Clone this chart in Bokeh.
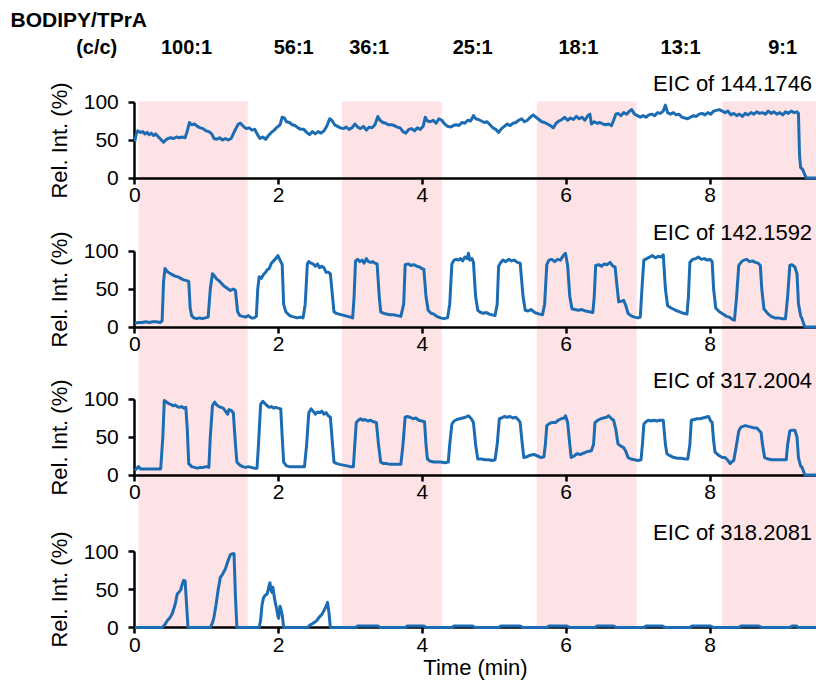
from bokeh.plotting import figure
from bokeh.models import Range1d, LinearAxis, FixedTicker, BoxAnnotation, Label, ColumnDataSource
from bokeh.embed import file_html
from bokeh.resources import INLINE

# ---------------- data ----------------
series_names = ["EIC of 144.1746", "EIC of 142.1592", "EIC of 317.2004", "EIC of 318.2081"]

t1 = [0.00,0.02,0.04,0.08,0.11,0.14,0.17,0.20,0.23,0.26,0.29,0.31,0.34,0.37,0.40,0.43,0.46,0.50,0.54,0.58,
      0.62,0.66,0.70,0.73,0.76,0.79,0.83,0.87,0.91,0.95,0.99,1.03,1.07,1.10,1.14,1.18,1.22,1.26,1.30,1.34,
      1.37,1.40,1.44,1.47,1.51,1.55,1.59,1.63,1.67,1.70,1.74,1.78,1.82,1.86,1.90,1.94,1.98,2.02,2.05,2.08,
      2.11,2.15,2.19,2.23,2.27,2.31,2.35,2.39,2.43,2.47,2.51,2.55,2.59,2.63,2.67,2.71,2.74,2.78,2.82,2.86,
      2.90,2.94,2.98,3.02,3.06,3.10,3.14,3.18,3.22,3.26,3.30,3.34,3.38,3.41,3.45,3.49,3.53,3.57,3.61,3.65,
      3.69,3.73,3.77,3.81,3.85,3.89,3.93,3.97,4.01,4.04,4.07,4.11,4.15,4.19,4.23,4.27,4.31,4.35,4.39,4.43,
      4.47,4.51,4.55,4.59,4.63,4.67,4.71,4.74,4.78,4.82,4.86,4.90,4.94,4.98,5.02,5.06,5.10,5.14,5.18,5.22,
      5.26,5.30,5.34,5.38,5.42,5.46,5.50,5.54,5.58,5.62,5.66,5.70,5.74,5.78,5.82,5.86,5.90,5.94,5.98,6.02,
      6.06,6.10,6.14,6.18,6.22,6.26,6.30,6.33,6.35,6.39,6.43,6.47,6.51,6.55,6.59,6.63,6.66,6.69,6.72,6.76,
      6.80,6.84,6.88,6.91,6.95,6.99,7.03,7.07,7.11,7.15,7.19,7.23,7.27,7.31,7.35,7.38,7.41,7.45,7.49,7.53,
      7.57,7.61,7.65,7.69,7.73,7.77,7.81,7.85,7.89,7.93,7.97,8.01,8.05,8.09,8.13,8.17,8.21,8.25,8.29,8.33,
      8.37,8.41,8.45,8.49,8.53,8.57,8.61,8.65,8.69,8.73,8.77,8.81,8.85,8.89,8.93,8.97,9.01,9.05,9.09,9.13,
      9.17,9.21,9.23,9.245,9.26,9.29,9.31,9.34,9.48]
y1 = [48,58,62,60,61,58,60,57,59,56,58,56,53,50,47,50,52,53,52,54,
      53,54,53,62,73,70,71,68,66,65,62,61,58,52,51,53,50,52,50,52,
      58,64,71,72,68,65,66,63,64,58,52,54,51,56,60,63,67,70,80,79,
      74,73,70,69,66,64,64,60,57,61,58,61,59,62,68,78,76,70,68,66,
      65,67,64,66,71,67,65,68,63,67,66,70,81,76,73,72,70,70,69,67,
      66,61,59,64,65,62,66,64,68,80,75,74,76,72,78,76,71,68,67,69,
      70,69,73,72,76,75,82,78,77,75,73,74,70,66,64,60,65,68,71,69,
      72,73,76,78,74,76,80,83,80,77,74,73,71,69,66,72,75,77,80,76,
      79,77,81,78,80,76,82,84,71,74,72,73,71,70,71,69,76,84,85,82,
      86,84,88,90,84,82,80,82,80,83,84,82,86,85,88,96,86,84,86,83,
      84,80,79,78,80,82,81,84,85,83,86,84,88,89,90,88,86,88,83,85,
      82,84,81,85,83,86,84,87,85,86,84,88,85,87,84,86,83,87,85,88,
      86,87,85,30,14,11,6,0,0]

t2 = [0.00,0.05,0.10,0.15,0.20,0.25,0.30,0.35,0.38,0.40,0.42,0.45,0.48,0.52,0.56,0.60,0.64,0.68,0.72,0.75,
      0.77,0.79,0.82,0.86,0.90,0.94,0.98,1.02,1.05,1.08,1.11,1.14,1.17,1.21,1.24,1.27,1.30,1.33,1.37,1.40,
      1.43,1.46,1.50,1.54,1.58,1.62,1.66,1.69,1.71,1.73,1.76,1.79,1.82,1.84,1.87,1.90,1.93,1.96,1.99,2.02,
      2.05,2.07,2.10,2.14,2.18,2.22,2.26,2.30,2.34,2.37,2.40,2.42,2.45,2.48,2.51,2.54,2.57,2.60,2.63,2.66,
      2.69,2.72,2.75,2.77,2.80,2.84,2.88,2.92,2.96,3.00,3.03,3.05,3.07,3.10,3.13,3.16,3.19,3.22,3.25,3.28,
      3.31,3.34,3.37,3.40,3.42,3.46,3.50,3.55,3.60,3.65,3.70,3.74,3.76,3.80,3.84,3.88,3.92,3.96,3.99,4.02,
      4.05,4.08,4.12,4.16,4.20,4.25,4.30,4.35,4.38,4.41,4.44,4.47,4.50,4.53,4.56,4.59,4.62,4.64,4.66,4.69,
      4.71,4.74,4.77,4.81,4.85,4.89,4.93,4.97,5.01,5.04,5.06,5.09,5.12,5.16,5.20,5.24,5.28,5.32,5.36,5.40,
      5.43,5.47,5.51,5.55,5.59,5.63,5.67,5.70,5.73,5.76,5.80,5.84,5.88,5.92,5.96,5.99,6.02,6.05,6.08,6.12,
      6.17,6.22,6.27,6.32,6.37,6.39,6.41,6.45,6.49,6.53,6.57,6.61,6.65,6.68,6.70,6.73,6.77,6.80,6.83,6.86,
      6.90,6.95,7.00,7.03,7.06,7.08,7.12,7.16,7.20,7.24,7.28,7.32,7.35,7.38,7.41,7.46,7.52,7.58,7.63,7.68,
      7.70,7.72,7.76,7.80,7.84,7.88,7.92,7.96,8.00,8.03,8.05,8.08,8.13,8.18,8.23,8.27,8.31,8.34,8.37,8.40,
      8.44,8.47,8.51,8.55,8.59,8.63,8.67,8.70,8.72,8.75,8.80,8.85,8.90,8.95,9.00,9.05,9.08,9.11,9.14,9.18,
      9.21,9.23,9.26,9.28,9.30,9.32,9.48]
y2 = [5,6,6,7,6,7,7,6,8,60,77,73,71,69,67,66,64,62,61,60,
      25,15,12,11,12,11,12,13,50,70,67,63,61,57,54,52,50,48,50,48,
      20,15,14,13,15,12,12,14,50,66,64,69,72,75,77,84,87,90,94,88,
      82,30,20,16,14,13,12,13,12,30,83,86,84,83,80,83,78,80,78,72,
      72,70,40,20,18,17,16,15,14,13,12,40,87,89,86,88,84,90,86,85,
      86,84,83,40,20,18,17,16,16,15,14,30,82,83,81,82,80,79,77,76,
      40,22,18,17,14,12,11,12,30,83,88,89,88,90,87,92,90,97,88,90,
      85,40,22,19,18,19,17,16,15,30,80,85,88,86,89,87,88,85,84,40,
      22,21,23,20,18,17,16,30,82,88,89,86,89,88,94,97,81,40,24,23,
      22,23,21,20,19,40,81,82,80,83,82,85,80,79,60,33,34,35,28,18,
      15,13,12,13,60,88,90,92,94,91,93,92,95,50,28,25,22,20,18,17,
      40,85,89,90,92,89,90,88,89,86,50,25,20,17,14,13,10,9,40,81,
      86,88,89,86,87,85,84,81,50,24,18,14,12,12,11,11,40,81,82,79,
      70,31,15,11,5,0,0]

t3 = [0.00,0.02,0.05,0.08,0.12,0.18,0.24,0.30,0.36,0.39,0.41,0.44,0.47,0.50,0.53,0.56,0.59,0.62,0.65,0.68,
      0.71,0.73,0.75,0.79,0.83,0.87,0.91,0.95,0.99,1.03,1.05,1.08,1.11,1.14,1.17,1.20,1.23,1.26,1.29,1.31,
      1.34,1.37,1.40,1.42,1.46,1.50,1.54,1.58,1.62,1.66,1.70,1.72,1.75,1.78,1.81,1.84,1.87,1.90,1.93,1.96,
      1.99,2.03,2.05,2.07,2.11,2.15,2.20,2.25,2.30,2.36,2.39,2.42,2.45,2.48,2.51,2.54,2.57,2.60,2.63,2.66,
      2.69,2.72,2.75,2.77,2.81,2.85,2.90,2.95,3.00,3.04,3.06,3.08,3.11,3.14,3.17,3.20,3.24,3.28,3.32,3.36,
      3.39,3.42,3.46,3.50,3.55,3.60,3.65,3.70,3.73,3.76,3.79,3.83,3.87,3.91,3.95,3.99,4.03,4.05,4.07,4.11,
      4.16,4.21,4.26,4.31,4.36,4.38,4.41,4.44,4.48,4.52,4.56,4.60,4.64,4.68,4.71,4.74,4.77,4.82,4.87,4.92,
      4.97,5.01,5.04,5.07,5.10,5.14,5.18,5.22,5.26,5.30,5.34,5.36,5.39,5.41,5.45,5.50,5.55,5.60,5.65,5.69,
      5.71,5.73,5.77,5.81,5.85,5.89,5.93,5.97,5.99,6.02,6.05,6.07,6.11,6.15,6.20,6.25,6.30,6.35,6.38,6.40,
      6.44,6.48,6.52,6.56,6.59,6.63,6.66,6.69,6.72,6.76,6.80,6.83,6.86,6.90,6.95,7.00,7.04,7.06,7.08,7.11,
      7.14,7.18,7.22,7.26,7.30,7.35,7.38,7.40,7.45,7.50,7.55,7.60,7.65,7.69,7.72,7.74,7.78,7.82,7.86,7.90,
      7.94,7.98,8.01,8.03,8.05,8.07,8.12,8.17,8.21,8.25,8.28,8.31,8.33,8.36,8.40,8.43,8.46,8.49,8.53,8.57,
      8.61,8.65,8.69,8.71,8.73,8.76,8.81,8.86,8.91,8.96,9.01,9.06,9.08,9.11,9.14,9.18,9.21,9.23,9.26,9.28,
      9.30,9.32,9.48]
y3 = [6,8,11,8,8,8,8,8,8,50,98,96,94,93,91,92,90,89,90,88,
      89,60,15,11,10,9,10,10,11,10,50,91,96,92,90,89,88,84,80,86,
      85,82,40,17,13,11,10,11,10,9,9,40,93,97,94,91,89,90,88,89,
      88,87,50,17,12,11,11,11,11,11,40,82,87,84,80,83,82,84,80,82,
      78,76,40,17,15,14,13,12,11,11,40,69,72,74,72,73,71,72,70,69,
      40,17,15,15,14,14,14,14,40,76,77,76,74,75,72,71,70,40,21,18,
      17,17,17,16,17,40,67,71,73,74,75,76,78,74,69,40,21,21,20,20,
      19,20,40,74,75,77,76,77,75,76,72,69,40,23,24,26,27,25,23,24,
      40,65,68,69,69,72,74,75,78,69,40,23,25,28,27,29,31,32,40,69,
      72,74,75,76,78,74,72,60,41,38,36,31,23,21,20,19,20,40,67,70,
      72,71,72,71,72,72,40,28,25,23,22,22,21,21,40,72,73,74,74,75,
      76,77,71,69,45,30,26,23,23,19,15,18,19,35,58,63,64,65,64,63,
      62,62,58,56,40,23,21,20,20,20,20,20,40,58,59,59,50,23,12,10,
      5,0,0]

t4 = [0.00,0.38,0.42,0.45,0.49,0.52,0.56,0.59,0.62,0.64,0.66,0.68,0.70,0.72,0.74,1.05,1.08,1.10,1.13,1.16,
      1.19,1.22,1.26,1.29,1.33,1.36,1.38,1.40,1.42,1.73,1.75,1.77,1.79,1.81,1.84,1.86,1.88,1.89,1.91,1.92,
      1.94,1.96,1.97,1.99,2.00,2.02,2.03,2.05,2.07,2.40,2.45,2.49,2.53,2.56,2.60,2.63,2.66,2.68,2.70,2.72,
      3.07,3.10,3.38,3.42,3.76,3.79,4.02,4.05,4.41,4.44,4.70,4.74,5.06,5.09,5.36,5.40,5.73,5.76,6.01,6.05,
      6.40,6.43,6.66,6.70,7.08,7.11,7.34,7.38,7.72,7.75,8.01,8.05,8.40,8.43,8.68,8.72,9.11,9.14,9.20,9.23,
      9.48]
y4 = [0,0,4,9,13,18,30,44,47,50,57,62,61,30,0,0,6,13,30,50,
      66,70,77,86,96,97,97,40,0,0,10,30,39,42,44,52,59,50,46,53,
      40,30,26,15,12,28,25,17,0,0,4,6,9,13,17,22,28,33,20,0,
      0,2,2,0,0,2,2,0,0,2,2,0,0,2,2,0,0,2,2,0,
      0,2,2,0,0,2,2,0,0,2,2,0,0,2,2,0,0,2,2,0,
      0]

times = [t1, t2, t3, t4]
values = [y1, y2, y3, y4]

# background bands (time, min)
band_start = [0.05, 2.88, 5.59, 8.17]
band_end = [1.57, 4.27, 6.98, 9.48]

# header: BODIPY/TPrA concentration ratios
ratio_labels = ["100:1", "56:1", "36:1", "25:1", "18:1", "13:1", "9:1"]
ratio_time = [0.72, 2.21, 3.26, 4.70, 6.17, 7.59, 9.01]

y_ticks = [0, 50, 100]
x_ticks = [0, 2, 4, 6, 8]

# ---------------- layout (pixels) ----------------
W, H = 816, 688
X0_PX = 134.3          # pixel of t = 0
PX_PER_MIN = 71.9
PX_PER_PCT = 0.76
zero_px = [177.5, 326.5, 474.5, 627.0]   # pixel row of 0 % in each panel
BAND_TOP_PX, BAND_BOT_PX = 101, 627
XMAX = 9.48

FONT = "Liberation Sans"
BLUE = "#1c6cb3"
PINK = "#fde3e5"

x_lo = -X0_PX / PX_PER_MIN
x_hi = (W - X0_PX) / PX_PER_MIN

# default y range: pixels measured from the bottom of the canvas
p = figure(width=W, height=H, x_range=Range1d(x_lo, x_hi), y_range=Range1d(0, H),
           output_backend="svg", toolbar_location=None,
           x_axis_location=None, y_axis_location=None,
           min_border_left=0, min_border_right=0, min_border_top=0, min_border_bottom=0)
p.outline_line_color = None
p.grid.visible = False
p.background_fill_color = "white"
p.border_fill_color = "white"

for a, b in zip(band_start, band_end):
    p.add_layout(BoxAnnotation(left=a, right=b, top=H - BAND_TOP_PX, bottom=H - BAND_BOT_PX,
                               fill_color=PINK, fill_alpha=1.0, line_alpha=0, level="underlay"))

def style_axis(ax):
    ax.axis_line_width = 2.5
    ax.axis_line_color = "black"
    ax.major_tick_line_width = 2.5
    ax.major_tick_line_color = "black"
    ax.major_tick_out = 6
    ax.major_tick_in = 0
    ax.minor_tick_out = 0
    ax.minor_tick_in = 0
    ax.major_label_text_font = FONT
    ax.major_label_text_font_size = "21px"
    ax.major_label_text_color = "black"
    ax.axis_label_text_font = FONT
    ax.axis_label_text_font_size = "22px"
    ax.axis_label_text_font_style = "normal"
    ax.axis_label_text_color = "black"

span = H / PX_PER_PCT
for i in range(4):
    name = f"p{i}"
    start = -(H - zero_px[i]) / PX_PER_PCT
    p.extra_y_ranges[name] = Range1d(start, start + span)

    src = ColumnDataSource(dict(t=times[i], v=values[i]))
    p.line("t", "v", source=src, y_range_name=name, line_color=BLUE, line_width=3,
           line_join="round", level="overlay")

    yax = LinearAxis(y_range_name=name, ticker=FixedTicker(ticks=y_ticks), bounds=(0, 100),
                     fixed_location=0, axis_label="Rel. Int. (%)")
    style_axis(yax)
    yax.major_label_standoff = 10
    yax.axis_label_standoff = 8
    p.add_layout(yax, "left")

    xax = LinearAxis(y_range_name=name, ticker=FixedTicker(ticks=x_ticks), bounds=(0, XMAX),
                     fixed_location=0)
    if i == 3:
        xax.axis_label = "Time (min)"
        xax.axis_label_standoff = 0
    style_axis(xax)
    xax.major_label_standoff = 4
    p.add_layout(xax, "below")

    p.add_layout(Label(x=9.42, y=125, y_range_name=name, text=series_names[i],
                       text_align="right", text_baseline="middle",
                       text_font=FONT, text_font_size="22px", text_color="black"))

HEADER_Y = H - 46
TITLE_Y = H - 19
for lab, tx in zip(ratio_labels, ratio_time):
    p.add_layout(Label(x=tx, y=HEADER_Y, text=lab, text_align="center",
                       text_baseline="middle", text_font=FONT, text_font_size="20px",
                       text_font_style="bold", text_color="black"))
p.add_layout(Label(x=-0.53, y=HEADER_Y, text="(c/c)", text_align="center",
                   text_baseline="middle", text_font=FONT, text_font_size="20px",
                   text_font_style="bold", text_color="black"))
p.add_layout(Label(x=x_lo + 10 / PX_PER_MIN, y=TITLE_Y, text="BODIPY/TPrA", text_align="left",
                   text_baseline="middle", text_font=FONT, text_font_size="21px",
                   text_font_style="bold", text_color="black"))

open("out.html", "w").write(file_html(p, INLINE))
